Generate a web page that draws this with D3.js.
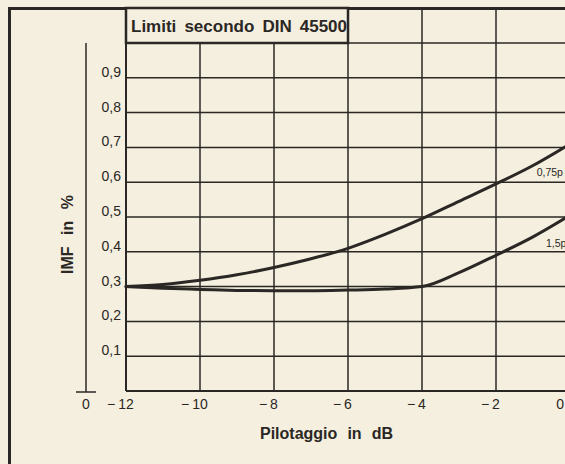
<!DOCTYPE html>
<html>
<head>
<meta charset="utf-8">
<script src="https://cdn.jsdelivr.net/npm/d3@7"></script>
<style>
  body { margin: 0; background: #f5efdf; }
  svg { display: block; }
  text { font-family: "Liberation Sans", Arial, sans-serif; fill: #2a2724; }
</style>
</head>
<body>
<svg id="canvas" width="565" height="464"></svg>
<script>
// data
let xTicks = [-12, -10, -8, -6, -4, -2, 0];
let yTicks = [0.1, 0.2, 0.3, 0.4, 0.5, 0.6, 0.7, 0.8, 0.9];
let yGrid = [0.1, 0.2, 0.3, 0.4, 0.5, 0.6, 0.7, 0.8, 0.9, 1.0];

let pilotaggio = [-12, -11, -10, -9, -8, -7, -6, -5, -4, -3, -2, -1, 0];
let imf075 = [0.300, 0.306, 0.318, 0.334, 0.355, 0.380, 0.410, 0.450, 0.495, 0.545, 0.595, 0.648, 0.710];
let imf15 = [0.300, 0.295, 0.292, 0.289, 0.288, 0.288, 0.290, 0.293, 0.300, 0.340, 0.390, 0.443, 0.505];

let curveLabels = [
  { text: '0,75p', x: -0.9, y: 0.617 },
  { text: '1,5p', x: -0.65, y: 0.415 }
];

let ink = '#2a2724';
let paper = '#f5efdf';
let W = 565;

let canvas = d3.select('#canvas');

let x = d3.scaleLinear().domain([-12, 0]).range([126, 570]);
let y = d3.scaleLinear().domain([0, 1]).range([391, 43]);

// stretch only the word gaps so a label fills the wanted width
let spreadWords = (sel, width) => {
  let natural = sel.node().getComputedTextLength();
  let gaps = sel.text().split(' ').length - 1;
  if (gaps > 0) sel.attr('word-spacing', (width - natural) / gaps);
};

// outer frame (top and left edge)
canvas.append('line')
  .attr('x1', 8).attr('x2', W).attr('y1', 8.5).attr('y2', 8.5)
  .attr('stroke', ink).attr('stroke-width', 3);
canvas.append('line')
  .attr('x1', 9.5).attr('x2', 9.5).attr('y1', 7).attr('y2', 464)
  .attr('stroke', ink).attr('stroke-width', 3);

// vertical grid lines
canvas.selectAll('.vgrid')
  .data(xTicks)
  .enter()
  .append('line')
  .attr('class', 'vgrid')
  .attr('x1', d => x(d)).attr('x2', d => x(d))
  .attr('y1', 8).attr('y2', y(0))
  .attr('stroke', ink)
  .attr('stroke-width', d => d === -12 ? 2 : 1.5);

// horizontal grid lines
canvas.selectAll('.hgrid')
  .data(yGrid)
  .enter()
  .append('line')
  .attr('class', 'hgrid')
  .attr('x1', x(-12)).attr('x2', x(0))
  .attr('y1', d => y(d)).attr('y2', d => y(d))
  .attr('stroke', ink)
  .attr('stroke-width', 1.5);

// bottom axis line
canvas.append('line')
  .attr('x1', x(-12)).attr('x2', x(0))
  .attr('y1', y(0)).attr('y2', y(0))
  .attr('stroke', ink).attr('stroke-width', 1.8);

// title box
canvas.append('rect')
  .attr('x', x(-12)).attr('y', 8)
  .attr('width', x(-6) - x(-12)).attr('height', y(1) - 8)
  .attr('fill', paper).attr('stroke', ink).attr('stroke-width', 2.5);

let title = canvas.append('text')
  .attr('x', 131).attr('y', 32)
  .attr('font-size', 17).attr('font-weight', 'bold')
  .text('Limiti secondo DIN 45500');
spreadWords(title, 216);

// separate y axis line with its own zero tick
canvas.append('line')
  .attr('x1', 86).attr('x2', 86).attr('y1', y(1)).attr('y2', y(0) + 1)
  .attr('stroke', ink).attr('stroke-width', 1.5);
canvas.append('line')
  .attr('x1', 76).attr('x2', 96).attr('y1', y(0) + 1).attr('y2', y(0) + 1)
  .attr('stroke', ink).attr('stroke-width', 1.5);
canvas.append('text')
  .attr('x', 86).attr('y', 409)
  .attr('font-size', 14).attr('text-anchor', 'middle')
  .text('0');

// y tick labels
canvas.selectAll('.ylab')
  .data(yTicks)
  .enter()
  .append('text')
  .attr('class', 'ylab')
  .attr('x', 121).attr('y', d => y(d) - 1)
  .attr('font-size', 14).attr('text-anchor', 'end')
  .text(d => d.toFixed(1).replace('.', ','));

// x tick labels: digits centred on the line, minus hung to the left
xTicks.forEach(v => {
  let t = canvas.append('text')
    .attr('y', 409)
    .attr('font-size', 14).attr('text-anchor', 'middle')
    .text(Math.abs(v));
  let w = t.node().getComputedTextLength();
  let cx = Math.min(x(v), W - w / 2 - 1);   // last label would fall off the page
  t.attr('x', cx);
  if (v < 0) {
    canvas.append('text')
      .attr('x', cx - w / 2 - 3).attr('y', 409)
      .attr('font-size', 14).attr('text-anchor', 'end')
      .text('\u2212');
  }
});

// axis titles
let xTitle = canvas.append('text')
  .attr('x', 260).attr('y', 439)
  .attr('font-size', 16).attr('font-weight', 'bold')
  .text('Pilotaggio in dB');
spreadWords(xTitle, 133);

let yTitle = canvas.append('text')
  .attr('transform', 'translate(73,274) rotate(-90)')
  .attr('font-size', 16).attr('font-weight', 'bold')
  .text('IMF in %');
spreadWords(yTitle, 79);

// curves
let line = d3.line()
  .x(d => x(d[0]))
  .y(d => y(d[1]))
  .curve(d3.curveMonotoneX);

[imf075, imf15].forEach(series => {
  canvas.append('path')
    .datum(pilotaggio.map((p, i) => [p, series[i]]))
    .attr('d', line)
    .attr('fill', 'none')
    .attr('stroke', ink)
    .attr('stroke-width', 3)
    .attr('stroke-linecap', 'round');
});

canvas.selectAll('.clab')
  .data(curveLabels)
  .enter()
  .append('text')
  .attr('class', 'clab')
  .attr('x', d => x(d.x)).attr('y', d => y(d.y))
  .attr('font-size', 10.5)
  .text(d => d.text);
</script>
</body>
</html>
